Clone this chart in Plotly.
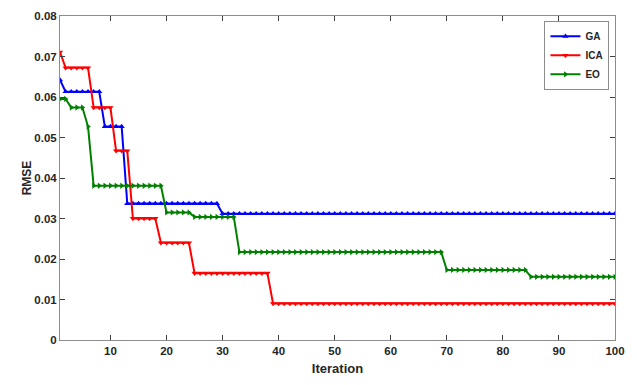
import plotly.graph_objects as go

iterations = list(range(1, 101))

ga = [0.0642, 0.0613, 0.0613, 0.0613, 0.0613, 0.0613, 0.0613, 0.0613, 0.0527, 0.0527,
      0.0527, 0.0527, 0.0337, 0.0337, 0.0337, 0.0337, 0.0337, 0.0337, 0.0337, 0.0337,
      0.0337, 0.0337, 0.0337, 0.0337, 0.0337, 0.0337, 0.0337, 0.0337, 0.0337, 0.0312,
      0.0312, 0.0312, 0.0312, 0.0312, 0.0312, 0.0312, 0.0312, 0.0312, 0.0312, 0.0312,
      0.0312, 0.0312, 0.0312, 0.0312, 0.0312, 0.0312, 0.0312, 0.0312, 0.0312, 0.0312,
      0.0312, 0.0312, 0.0312, 0.0312, 0.0312, 0.0312, 0.0312, 0.0312, 0.0312, 0.0312,
      0.0312, 0.0312, 0.0312, 0.0312, 0.0312, 0.0312, 0.0312, 0.0312, 0.0312, 0.0312,
      0.0312, 0.0312, 0.0312, 0.0312, 0.0312, 0.0312, 0.0312, 0.0312, 0.0312, 0.0312,
      0.0312, 0.0312, 0.0312, 0.0312, 0.0312, 0.0312, 0.0312, 0.0312, 0.0312, 0.0312,
      0.0312, 0.0312, 0.0312, 0.0312, 0.0312, 0.0312, 0.0312, 0.0312, 0.0312, 0.0312]

ica = [0.0711, 0.0672, 0.0672, 0.0672, 0.0672, 0.0672, 0.0574, 0.0574, 0.0574, 0.0574,
       0.0467, 0.0467, 0.0467, 0.0300, 0.0300, 0.0300, 0.0300, 0.0300, 0.0240, 0.0240,
       0.0240, 0.0240, 0.0240, 0.0240, 0.0165, 0.0165, 0.0165, 0.0165, 0.0165, 0.0165,
       0.0165, 0.0165, 0.0165, 0.0165, 0.0165, 0.0165, 0.0165, 0.0165, 0.0090, 0.0090,
       0.0090, 0.0090, 0.0090, 0.0090, 0.0090, 0.0090, 0.0090, 0.0090, 0.0090, 0.0090,
       0.0090, 0.0090, 0.0090, 0.0090, 0.0090, 0.0090, 0.0090, 0.0090, 0.0090, 0.0090,
       0.0090, 0.0090, 0.0090, 0.0090, 0.0090, 0.0090, 0.0090, 0.0090, 0.0090, 0.0090,
       0.0090, 0.0090, 0.0090, 0.0090, 0.0090, 0.0090, 0.0090, 0.0090, 0.0090, 0.0090,
       0.0090, 0.0090, 0.0090, 0.0090, 0.0090, 0.0090, 0.0090, 0.0090, 0.0090, 0.0090,
       0.0090, 0.0090, 0.0090, 0.0090, 0.0090, 0.0090, 0.0090, 0.0090, 0.0090, 0.0090]

eo = [0.0595, 0.0595, 0.0574, 0.0574, 0.0574, 0.0527, 0.0381, 0.0381, 0.0381, 0.0381,
      0.0381, 0.0381, 0.0381, 0.0381, 0.0381, 0.0381, 0.0381, 0.0381, 0.0381, 0.0315,
      0.0315, 0.0315, 0.0315, 0.0315, 0.0304, 0.0304, 0.0304, 0.0304, 0.0304, 0.0304,
      0.0304, 0.0304, 0.0217, 0.0217, 0.0217, 0.0217, 0.0217, 0.0217, 0.0217, 0.0217,
      0.0217, 0.0217, 0.0217, 0.0217, 0.0217, 0.0217, 0.0217, 0.0217, 0.0217, 0.0217,
      0.0217, 0.0217, 0.0217, 0.0217, 0.0217, 0.0217, 0.0217, 0.0217, 0.0217, 0.0217,
      0.0217, 0.0217, 0.0217, 0.0217, 0.0217, 0.0217, 0.0217, 0.0217, 0.0217, 0.0173,
      0.0173, 0.0173, 0.0173, 0.0173, 0.0173, 0.0173, 0.0173, 0.0173, 0.0173, 0.0173,
      0.0173, 0.0173, 0.0173, 0.0173, 0.0156, 0.0156, 0.0156, 0.0156, 0.0156, 0.0156,
      0.0156, 0.0156, 0.0156, 0.0156, 0.0156, 0.0156, 0.0156, 0.0156, 0.0156, 0.0156]

series_names = ["GA", "ICA", "EO"]
series_values = [ga, ica, eo]
colors = ["#0000FF", "#FF0000", "#008000"]
symbols = ["triangle-up", "triangle-down", "triangle-right"]

x_ticks = [10, 20, 30, 40, 50, 60, 70, 80, 90, 100]
y_ticks = [0, 0.01, 0.02, 0.03, 0.04, 0.05, 0.06, 0.07, 0.08]

FONT = "Liberation Sans, Arial, sans-serif"

fig = go.Figure()
for name, vals, col, sym in zip(series_names, series_values, colors, symbols):
    fig.add_trace(go.Scatter(
        x=iterations, y=vals, name=name, mode="lines+markers",
        line=dict(color=col, width=2),
        marker=dict(symbol=sym, size=5.5, color=col),
    ))

axis_common = dict(
    showline=True, linecolor="#8c8c8c", linewidth=1, mirror="ticks",
    ticks="inside", ticklen=5, tickcolor="#404040", showgrid=False, zeroline=False,
    tickfont=dict(family=FONT, size=11.5, color="#262626", weight="bold"),
)

fig.update_layout(
    width=637, height=385,
    margin=dict(l=60, r=22, t=10, b=45),
    paper_bgcolor="white", plot_bgcolor="white",
    font=dict(family=FONT, color="#262626"),
    xaxis=dict(range=[1, 100], tickvals=x_ticks,
               title=dict(text="Iteration", font=dict(family=FONT, size=13, weight="bold", color="#262626"),
                          standoff=8),
               **axis_common),
    yaxis=dict(range=[0, 0.08], tickvals=y_ticks, ticktext=[str(v) for v in y_ticks],
               title=dict(text="RMSE", font=dict(family=FONT, size=12, weight="bold", color="#262626"),
                          standoff=0),
               **axis_common),
    legend=dict(x=0.99, y=0.985, xanchor="right", yanchor="top",
                bgcolor="white", bordercolor="#8c8c8c", borderwidth=1,
                font=dict(family=FONT, size=10, weight="bold", color="#262626"),
                itemwidth=30, tracegroupgap=0),
    showlegend=True,
)

fig.write_html("out.html")
